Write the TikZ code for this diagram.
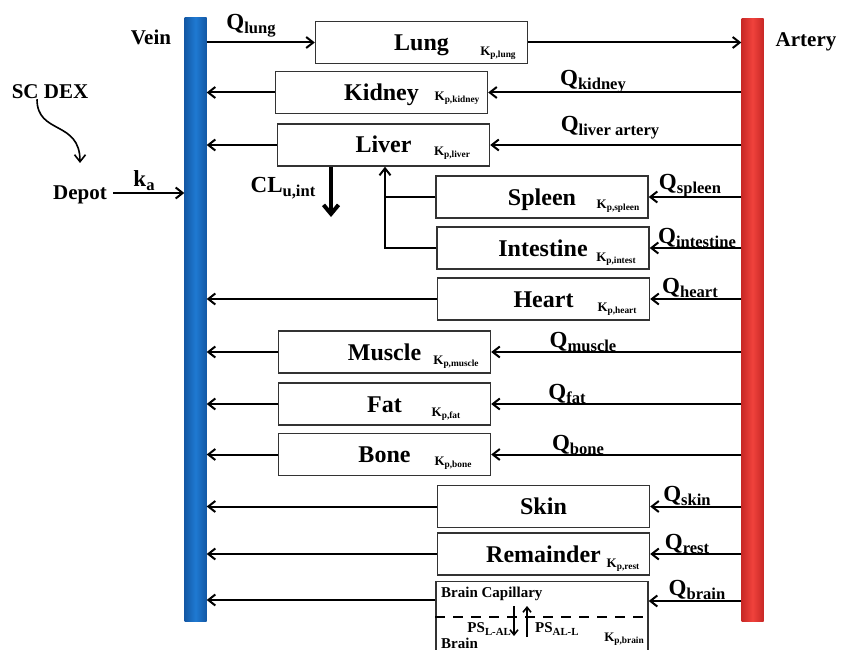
\documentclass[tikz,border=0pt]{standalone}
\usepackage{fontspec}
\setmainfont{Liberation Serif}
\usepackage{graphicx}
\usetikzlibrary{positioning,arrows.meta,calc}
\definecolor{veinblue}{RGB}{30,122,210}
\definecolor{veindark}{RGB}{20,88,165}
\definecolor{arteryred}{RGB}{240,66,60}
\definecolor{arterydark}{RGB}{200,40,38}
\newcommand{\lsub}[1]{\raisebox{-0.18em}{\scalebox{0.72}{#1}}}

\begin{document}
\begin{tikzpicture}[x=1pt, y=-1pt, >={Straight Barb[length=7pt,width=11pt]},
  every node/.style={font=\bfseries, inner sep=0pt},
  organ/.style={draw=black!80, line width=1.4pt, minimum width=212pt, minimum height=42pt,
    text height=16pt, text depth=0pt, font=\fontsize{24}{26}\selectfont\bfseries},
  vessel/.style={minimum width=22pt, minimum height=603pt},
  flow/.style={->, line width=2pt},
  qlab/.style={font=\fontsize{23}{24}\selectfont\bfseries},
  kplab/.style={font=\fontsize{13}{14}\selectfont\bfseries},
  tag/.style={font=\fontsize{21}{22}\selectfont\bfseries},
  brainlab/.style={font=\fontsize{15}{16}\selectfont\bfseries}]
  \useasboundingbox (0,0) rectangle (841,650);

  % vessels
  \node[vessel, left color=veindark, right color=veindark, middle color=veinblue] (vein) at (195.5,319.5) {};
  \node[vessel, left color=arterydark, right color=arterydark, middle color=arteryred] (artery) at (752.5,320) {};
  \node[tag] (veinlab) at (151,37) {Vein};
  \node[tag] (arterylab) at (806,42) {Artery};

  % organs
  \node[organ] (lung) at (421.5,42.5) {Lung};
  \node[organ] (kidney) at (381.5,92.5) {Kidney};
  \node[organ] (liver) at (383.5,145) {Liver};
  \node[organ] (spleen) at (542,197) {Spleen};
  \node[organ] (intestine) at (543,248) {Intestine};
  \node[organ] (heart) at (543.5,299) {Heart};
  \node[organ] (muscle) at (384.5,352) {Muscle};
  \node[organ] (fat) at (384.5,404) {Fat};
  \node[organ] (bone) at (384.5,454.5) {Bone};
  \node[organ] (skin) at (543.5,506.5) {Skin};
  \node[organ] (remainder) at (543.5,554) {Remainder};
  \node[organ, minimum height=76pt, anchor=north] (brain) at (542,581) {};

  % partition coefficients
  \node[kplab] (kplung) at (498,53) {K\lsub{p,lung}};
  \node[kplab] (kpkidney) at (457,98) {K\lsub{p,kidney}};
  \node[kplab] (kpliver) at (452,153) {K\lsub{p,liver}};
  \node[kplab] (kpspleen) at (618,206) {K\lsub{p,spleen}};
  \node[kplab] (kpintest) at (616,259) {K\lsub{p,intest}};
  \node[kplab] (kpheart) at (617,309) {K\lsub{p,heart}};
  \node[kplab] (kpmuscle) at (456,362) {K\lsub{p,muscle}};
  \node[kplab] (kpfat) at (446,414) {K\lsub{p,fat}};
  \node[kplab] (kpbone) at (453,463) {K\lsub{p,bone}};
  \node[kplab] (kprest) at (623,565) {K\lsub{p,rest}};
  \node[kplab] (kpbrain) at (624,639) {K\lsub{p,brain}};

  % blood flows
  \draw[flow] (vein.east |- lung.west) -- (lung.west);
  \draw[flow] (lung.east) -- (artery.west |- lung.east);
  \foreach \org in {kidney,liver,heart,muscle,fat,bone,skin,remainder}
    \draw[flow] (\org.west) -- (vein.east |- \org.west);
  \foreach \org in {kidney,liver,spleen,intestine,heart,muscle,fat,bone,skin,remainder}
    \draw[flow] (artery.west |- \org.east) -- (\org.east);
  \coordinate (brainin) at ([yshift=-20pt]brain.north east);
  \coordinate (brainout) at ([yshift=-19pt]brain.north west);
  \draw[flow] (brainout) -- (vein.east |- brainout);
  \draw[flow] (artery.west |- brainin) -- (brainin);

  \node[qlab] (qlung) at (251,26) {Q\lsub{lung}};
  \node[qlab] (qkidney) at (593,82) {Q\lsub{kidney}};
  \node[qlab] (qliver) at (610,128) {Q\lsub{liver artery}};
  \node[qlab] (qspleen) at (690,186) {Q\lsub{spleen}};
  \node[qlab] (qintest) at (697,238) {Q\lsub{intestine}};
  \node[qlab] (qheart) at (690,288) {Q\lsub{heart}};
  \node[qlab] (qmuscle) at (583,342) {Q\lsub{muscle}};
  \node[qlab] (qfat) at (567,394) {Q\lsub{fat}};
  \node[qlab] (qbone) at (578,445) {Q\lsub{bone}};
  \node[qlab] (qskin) at (687,496) {Q\lsub{skin}};
  \node[qlab] (qrest) at (687,544) {Q\lsub{rest}};
  \node[qlab] (qbrain) at (697,590) {Q\lsub{brain}};

  % portal flow and clearance
  \coordinate (portal) at ([xshift=1.5pt]liver.south);
  \draw[line width=2pt] (spleen.west) -- (portal |- spleen.west);
  \draw[flow] (intestine.west) -| (portal);
  \coordinate (clend) at (331,217);
  \draw[-{Straight Barb[length=9pt,width=15pt]}, line width=4pt] (liver.south -| clend) -- (clend);
  \node[qlab] (cl) at (283,188) {CL\lsub{u,int}};

  % dosing
  \node[tag] (scdex) at (50,92) {SC DEX};
  \coordinate (sctip) at (80,163);
  \draw[->, line width=1.6pt] ([xshift=-13pt]scdex.south) .. controls (37,135) and (80,120) .. (sctip);
  \node[tag] (depot) at (80,195) {Depot};
  \coordinate (depotout) at ([xshift=6pt,yshift=2pt]depot.east);
  \draw[flow] (depotout) -- (vein.west |- depotout);
  \node[qlab] (ka) at (144,181) {k\lsub{a}};

  % brain compartments
  \node[brainlab, anchor=west] (capil) at (441,594) {Brain Capillary};
  \draw[line width=2.6pt, dash pattern=on 10pt off 8pt] ([yshift=-36pt]brain.north west) -- ([yshift=-36pt,xshift=-3pt]brain.north east);
  \draw[-{Straight Barb[length=5pt,width=8pt]}, line width=1.6pt] (514,606) -- (514,636);
  \draw[-{Straight Barb[length=5pt,width=8pt]}, line width=1.6pt] (527,637) -- (527,606);
  \node[brainlab, anchor=east] (psla) at (511,629) {PS\lsub{L-AL}};
  \node[brainlab, anchor=west] (psal) at (535,629) {PS\lsub{AL-L}};
  \node[brainlab, anchor=base west] (tissue) at (441,648) {Brain};
\end{tikzpicture}
\end{document}
